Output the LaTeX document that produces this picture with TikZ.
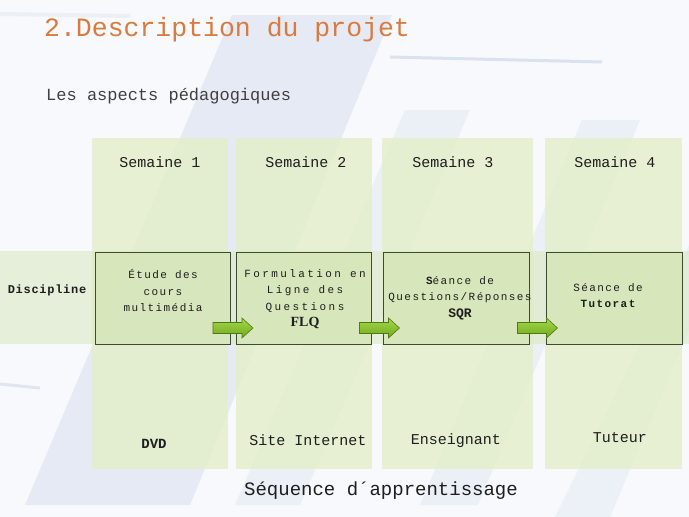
\documentclass[tikz,border=0pt]{standalone}
\usepackage{fontspec}
\setmainfont{Liberation Serif}
\newfontfamily\cour{Liberation Mono}
\newfontfamily\courA[LetterSpace=13]{Liberation Mono}
\newfontfamily\courB[LetterSpace=22]{Liberation Mono}
\newfontfamily\courC[LetterSpace=6]{Liberation Mono}

\definecolor{bg}{HTML}{F7F9FC}
\definecolor{stripe}{HTML}{C9D4E7}
\definecolor{colfill}{HTML}{E3EEC8}
\definecolor{bandfill}{HTML}{DCE9C2}
\definecolor{boxfill}{HTML}{D3E3B3}
\definecolor{boxline}{HTML}{3F4A35}
\definecolor{titleorange}{HTML}{D97A3E}
\definecolor{txt}{HTML}{1E1E1E}
\definecolor{arrowA}{HTML}{A6D84A}
\definecolor{arrowB}{HTML}{6FA81E}
\definecolor{arrowline}{HTML}{4E7A12}

\begin{document}
\begin{tikzpicture}[x=1pt,y=-1pt,
  stripeshape/.style={fill=stripe, fill opacity=0.38, draw=none},
  weekcol/.style={fill=colfill, fill opacity=0.8, draw=none},
  stepbox/.style={rectangle, draw=boxline, line width=0.8pt, fill=boxfill, fill opacity=0.55, draw opacity=1, inner sep=0, minimum height=92pt},
  flowarrow/.style={draw=arrowline, line width=0.6pt, top color=arrowA, bottom color=arrowB, line join=miter},
  weeklabel/.style={inner sep=0, text=txt, font=\cour\fontsize{15}{15}\selectfont},
  boxtext/.style={inner sep=0, align=center, text=txt, font=\courA\fontsize{11}{16.5}\selectfont},
  toollabel/.style={inner sep=0, text=txt, font=\cour\fontsize{15}{15}\selectfont}]
\useasboundingbox (0,0) rectangle (689,517);
\fill[bg] (0,0) rectangle (689,517);

% faint background strokes
\fill[stripeshape] (25,505) -- (190,505) -- (392,15) -- (232,15) -- cycle;
\fill[stripeshape, fill opacity=0.26] (235,505) -- (300,505) -- (470,110) -- (405,110) -- cycle;
\fill[stripeshape, fill opacity=0.26] (420,505) -- (478,505) -- (640,120) -- (582,120) -- cycle;
\fill[stripeshape, fill opacity=0.22] (555,517) -- (610,517) -- (689,330) -- (689,245) -- cycle;
\draw[stripe, line width=3pt, opacity=0.6] (390,57) -- (602,62);
\draw[stripe, line width=3pt, opacity=0.5] (0,384) -- (40,388);
\draw[stripe!70, line width=4pt, opacity=0.4] (0,14) -- (130,16);

% week columns
\fill[weekcol] (92,138) rectangle (228,469);
\fill[weekcol] (236,138) rectangle (372,469);
\fill[weekcol] (382,138) rectangle (533,469);
\fill[weekcol] (545,138) rectangle (682,469);

% discipline band
\fill[bandfill, fill opacity=0.6] (0,251) rectangle (689,344);

% title texts
\node[anchor=west, inner sep=0, text=titleorange, font=\cour\fontsize{26.5}{26.5}\selectfont] (title) at (44,30) {2.Description du projet};
\node[anchor=west, inner sep=0, text=txt!85, font=\cour\fontsize{17}{17}\selectfont] (subtitle) at (46,96) {Les aspects pédagogiques};

% week labels
\node[weeklabel] (w1) at (160,162) {Semaine 1};
\node[weeklabel] (w2) at (306,162) {Semaine 2};
\node[weeklabel] (w3) at (453,162) {Semaine 3};
\node[weeklabel] (w4) at (615,162) {Semaine 4};

% row label
\node[inner sep=0, text=txt, font=\courC\bfseries\fontsize{12}{12}\selectfont] (disc) at (47,290) {Discipline};

% step boxes
\node[stepbox, minimum width=135pt] (b1) at (162.5,298) {};
\node[stepbox, minimum width=135pt] (b2) at (303.5,298) {};
\node[stepbox, minimum width=146pt] (b3) at (456,298) {};
\node[stepbox, minimum width=136pt] (b4) at (614,298) {};

\node[boxtext] (t1) at (163,290.5) {Étude des\\cours\\multimédia};
\node[boxtext, font=\courB\fontsize{11}{16.5}\selectfont] (t2) at (305,299) {Formulation en\\Ligne des\\Questions\\{\rmfamily\bfseries\fontsize{14}{14}\selectfont FLQ}};
\node[boxtext] (t3) at (460,298) {{\bfseries S}éance de\\Questions/Réponses\\{\cour\bfseries\fontsize{13}{13}\selectfont SQR}};
\node[boxtext] (t4) at (608,295.5) {Séance de\\{\bfseries Tutorat}};

% arrows between steps (block arrows)
\coordinate (a1) at (233,328);
\coordinate (a2) at (379.5,328);
\coordinate (a3) at (537.5,328);
\foreach \a in {a1,a2,a3}{
  \draw[flowarrow, shift={(\a)}] (-20,-5.5) -- (9,-5.5) -- (9,-10) -- (20,0) -- (9,10) -- (9,5.5) -- (-20,5.5) -- cycle;
}

% tools
\node[toollabel, font=\cour\bfseries\fontsize{14}{14}\selectfont] (d1) at (154,444) {DVD};
\node[toollabel] (d2) at (308,440) {Site Internet};
\node[toollabel] (d3) at (456,441) {Enseignant};
\node[toollabel] (d4) at (620,438) {Tuteur};

% caption
\node[inner sep=0, text=txt, font=\cour\fontsize{19}{19}\selectfont] (caption) at (381,491) {Séquence d´apprentissage};
\end{tikzpicture}
\end{document}
